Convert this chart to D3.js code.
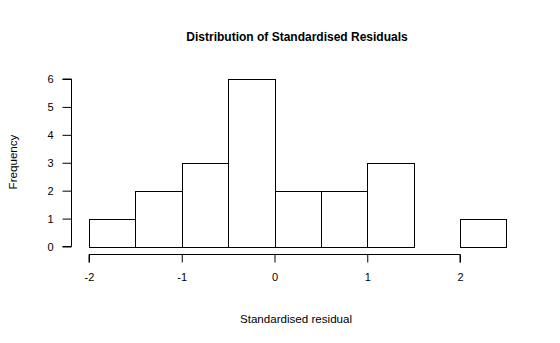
<!DOCTYPE html>
<html>
<head>
<meta charset="utf-8">
<script src="https://cdn.jsdelivr.net/npm/d3@7"></script>
<style>
  body { margin: 0; background: #fff; }
  text { font-family: "Liberation Sans", Arial, sans-serif; fill: #000; }
</style>
</head>
<body>
<div id="chart"></div>
<script>
let WIDTH = 560
let HEIGHT = 343

// histogram bins (lower edges, width 0.5) and counts
let binStarts = [-2, -1.5, -1, -0.5, 0, 0.5, 1, 1.5, 2]
let binWidth = 0.5
let counts = [1, 2, 3, 6, 2, 2, 3, 0, 1]
let xTicks = [-2, -1, 0, 1, 2]
let yTicks = [0, 1, 2, 3, 4, 5, 6]

let x = d3.scaleLinear().domain([-2, 2]).range([89, 460])
let y = d3.scaleLinear().domain([0, 6]).range([246.5, 79])

let svg = d3.select('#chart')
    .append('svg')
    .attr('width', WIDTH)
    .attr('height', HEIGHT)

// bars
svg.selectAll('rect.bar')
    .data(binStarts)
    .enter()
    .append('rect')
    .attr('class', 'bar')
    .attr('x', (d) => Math.round(x(d)) + 0.5)
    .attr('width', (d) => Math.round(x(d + binWidth)) - Math.round(x(d)))
    .attr('y', (d, i) => Math.round(y(counts[i])) + 0.5)
    .attr('height', (d, i) => Math.round(y(0)) - Math.round(y(counts[i])))
    .attr('fill', 'none')
    .attr('stroke', '#000')
    .attr('stroke-width', 1)

// x axis (plain hyphen for negatives, like R)
let xAxis = d3.axisBottom(x).tickValues(xTicks).tickSize(8).tickPadding(11)
    .tickFormat((d) => String(d))
let gx = svg.append('g').attr('transform', 'translate(0,254.5)').call(xAxis)
gx.select('.domain').attr('d', `M${x(-2)},8V0H${x(2)}V8`)

// y axis
let yAxis = d3.axisLeft(y).tickValues(yTicks).tickSize(9).tickPadding(9)
    .tickFormat((d) => String(d))
let gy = svg.append('g').attr('transform', 'translate(71.5,0)').call(yAxis)
gy.select('.domain').attr('d', `M-9,${y(6)}H0V${y(0)}H-9`)

svg.selectAll('.tick text').style('font-size', '11px').style('font-family', '"Liberation Sans", Arial, sans-serif')
svg.selectAll('.domain, .tick line').attr('stroke', '#000')

// titles
svg.append('text')
    .attr('x', 297).attr('y', 41)
    .attr('text-anchor', 'middle')
    .style('font-size', '12px').style('font-weight', 'bold')
    .text('Distribution of Standardised Residuals')

svg.append('text')
    .attr('x', 296).attr('y', 323)
    .attr('text-anchor', 'middle')
    .style('font-size', '11.6px')
    .text('Standardised residual')

svg.append('text')
    .attr('transform', 'translate(17,162) rotate(-90)')
    .attr('text-anchor', 'middle')
    .style('font-size', '11.6px')
    .text('Frequency')
</script>
</body>
</html>
